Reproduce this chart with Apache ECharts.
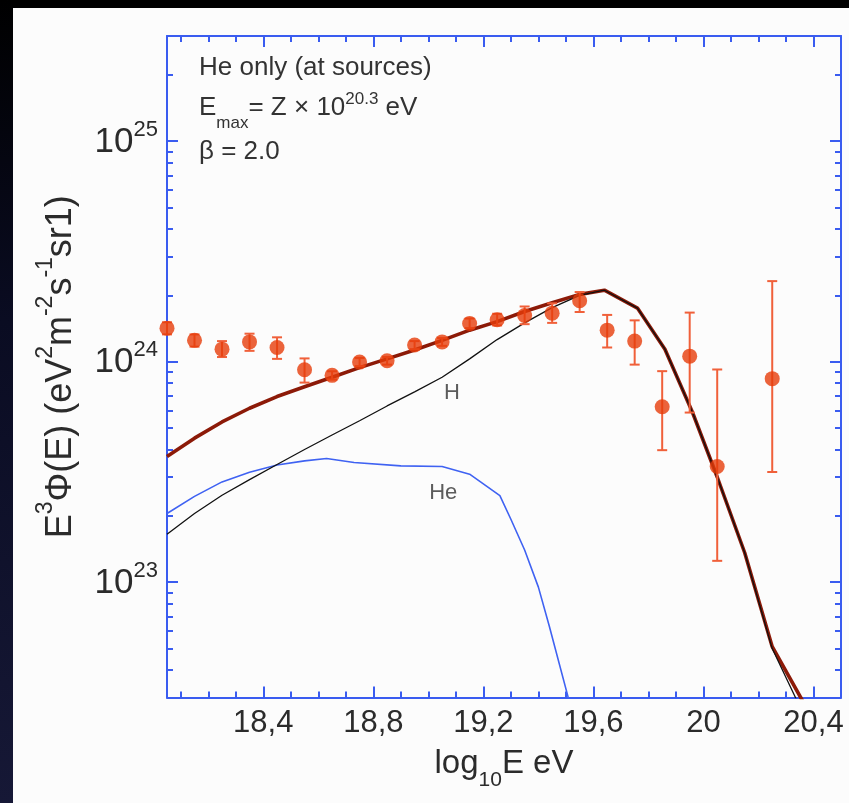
<!DOCTYPE html>
<html>
<head>
<meta charset="utf-8">
<script src="https://cdn.jsdelivr.net/npm/echarts@6/dist/echarts.min.js"></script>
<style>
html,body{margin:0;padding:0;background:#000;}
#c{width:849px;height:803px;}
</style>
</head>
<body>
<div id="c"></div>
<script>
// ---------- data ----------
const dataE   = [18.05,18.15,18.25,18.35,18.45,18.55,18.65,18.75,18.85,18.95,19.05,19.15,19.25,19.35,19.45,19.55,19.65,19.75,19.85,19.95,20.05,20.25];
const dataF   = [1.42e24,1.25e24,1.14e24,1.23e24,1.16e24,9.2e23,8.67e23,9.96e23,1.01e24,1.19e24,1.23e24,1.49e24,1.55e24,1.62e24,1.66e24,1.89e24,1.39e24,1.24e24,6.25e23,1.06e24,3.35e23,8.38e23];
const dataLo  = [1.33e24,1.17e24,1.05e24,1.12e24,1.03e24,8.04e23,8.3e23,9.55e23,9.7e23,1.14e24,1.18e24,1.42e24,1.46e24,1.48e24,1.50e24,1.68e24,1.16e24,9.7e23,3.97e23,5.88e23,1.25e23,3.16e23];
const dataHi  = [1.51e24,1.33e24,1.24e24,1.34e24,1.29e24,1.035e24,9.05e23,1.04e24,1.05e24,1.24e24,1.28e24,1.57e24,1.65e24,1.78e24,1.84e24,2.07e24,1.63e24,1.54e24,9.06e23,1.67e24,9.22e23,2.32e24];

const totalE  = [18.05,18.15,18.25,18.35,18.45,18.55,18.65,18.75,18.85,18.95,19.05,19.15,19.25,19.35,19.45,19.55,19.64,19.76,19.86,19.96,20.05,20.15,20.25,20.36];
const totalF  = [3.72e23,4.5e23,5.33e23,6.15e23,6.95e23,7.7e23,8.5e23,9.4e23,1.03e24,1.13e24,1.25e24,1.39e24,1.52e24,1.69e24,1.85e24,2.02e24,2.11e24,1.75e24,1.14e24,5.9e23,3.0e23,1.36e23,5.1e22,2.9e22];

const hE      = [18.05,18.15,18.25,18.35,18.45,18.55,18.65,18.75,18.85,18.95,19.05,19.15,19.25,19.35,19.45,19.55,19.64,19.76,19.86,19.96,20.05,20.15,20.25,20.34];
const hF      = [1.65e23,2.05e23,2.48e23,2.92e23,3.42e23,4.0e23,4.65e23,5.4e23,6.3e23,7.3e23,8.5e23,1.03e24,1.26e24,1.5e24,1.76e24,2.0e24,2.11e24,1.75e24,1.14e24,5.9e23,3.0e23,1.36e23,5.0e22,2.9e22];

const heE     = [18.05,18.15,18.25,18.35,18.45,18.55,18.63,18.73,18.9,19.05,19.15,19.26,19.30,19.35,19.40,19.44,19.51];
const heF     = [2.05e23,2.45e23,2.85e23,3.15e23,3.4e23,3.55e23,3.64e23,3.49e23,3.37e23,3.35e23,3.09e23,2.47e23,1.93e23,1.4e23,9.5e22,6.3e22,2.95e22];

const xMajor      = [18.4,18.8,19.2,19.6,20.0,20.4];
const xTickLabels = ['18,4','18,8','19,2','19,6','20','20,4'];
const xMinor      = [18.1,18.2,18.3,18.5,18.6,18.7,18.9,19.0,19.1,19.3,19.4,19.5,19.7,19.8,19.9,20.1,20.2,20.3];
const yMajorExp   = [23,24,25];
const yMinorVals  = [4e22,5e22,6e22,7e22,8e22,9e22,2e23,3e23,4e23,5e23,6e23,7e23,8e23,9e23,2e24,3e24,4e24,5e24,6e24,7e24,8e24,9e24,2e25];

const curveLabels = [{name:'H', e:19.086, f:7.2e23},{name:'He', e:19.054, f:2.54e23}];

// ---------- chart ----------
const L = Math.log10;
const BLUE = '#3a5cf0';
const FONT = 'Liberation Sans';
const TXT = '#2b2b2b';
const xMin = 18.05, xMax = 20.5;
const yMin = L(3e22), yMax = L(3e25);

const zip = (es, fs) => es.map((e,i)=>[e, L(fs[i])]);

function xAx(pos, vals, len, main) {
  return {
    type:'value', min:xMin, max:xMax, position:pos, splitLine:{show:false},
    axisLine:{show:main, onZero:false, lineStyle:{color:BLUE, width:2}},
    axisTick:{show:true, inside:true, length:len, customValues:vals, lineStyle:{color:BLUE, width:2}},
    axisLabel:{show:false}
  };
}
function yAx(pos, vals, len, main) {
  return {
    type:'value', min:yMin, max:yMax, position:pos, splitLine:{show:false},
    axisLine:{show:main, onZero:false, lineStyle:{color:BLUE, width:2}},
    axisTick:{show:true, inside:true, length:len, customValues:vals, lineStyle:{color:BLUE, width:2}},
    axisLabel:{show:false}
  };
}

const xa0 = xAx('bottom', xMajor, 11, true);
xa0.axisLabel = {
  show:true, customValues:xMajor, margin:10, fontSize:31, fontFamily:FONT, color:TXT,
  formatter: v => { const i = xMajor.findIndex(m => Math.abs(m-v)<1e-6); return i>=0 ? xTickLabels[i] : ''; }
};
xa0.name = '{n|log}{sub|10}{n|E eV}';
xa0.nameLocation = 'middle';
xa0.nameGap = 50;
xa0.nameTextStyle = {
  fontFamily:FONT, color:TXT,
  rich:{
    n:{fontSize:33, lineHeight:33, fontFamily:FONT, color:TXT, verticalAlign:'top', padding:[0,0,0,0]},
    sub:{fontSize:21, lineHeight:21, fontFamily:FONT, color:TXT, verticalAlign:'top', padding:[22,0,0,0]}
  }
};

const ya0 = yAx('left', yMajorExp, 11, true);
ya0.axisLabel = {
  show:true, customValues:yMajorExp, margin:9, fontFamily:FONT, color:TXT, padding:[0,0,22,0],
  formatter: v => '{b|10}{s|' + Math.round(v) + '}',
  rich:{
    b:{fontSize:35, lineHeight:35, fontFamily:FONT, color:TXT, verticalAlign:'top', padding:[12,0,0,0]},
    s:{fontSize:22, lineHeight:22, fontFamily:FONT, color:TXT, verticalAlign:'top', padding:[6,0,0,0]}
  }
};
ya0.name = '{n|E}{sup|3}{n|Φ(E) (eV}{sup|2}{n|m}{sup|-2}{n|s}{sup|-1}{n|sr1)}';
ya0.nameLocation = 'middle';
ya0.nameGap = 97;
ya0.nameTextStyle = {
  fontFamily:FONT, color:TXT,
  rich:{
    n:{fontSize:36, lineHeight:36, fontFamily:FONT, color:TXT, verticalAlign:'top', padding:[9,0,0,0]},
    sup:{fontSize:23, lineHeight:23, fontFamily:FONT, color:TXT, verticalAlign:'top', padding:[0,0,0,0]}
  }
};

const yMinorLog = yMinorVals.map(L);

const option = {
  backgroundColor:'#000',
  animation:false,
  grid:{left:167, top:36, right:8, bottom:105.5, containLabel:false},
  xAxis:[ xa0, xAx('bottom', xMinor, 6, false), xAx('top', xMajor, 11, true), xAx('top', xMinor, 6, false) ],
  yAxis:[ ya0, yAx('left', yMinorLog, 6, false), yAx('right', yMajorExp, 11, true), yAx('right', yMinorLog, 6, false) ],
  graphic:{elements:[
    {type:'rect', z:-100, silent:true, shape:{x:13, y:8, width:836, height:795}, style:{fill:'#fcfcfc'}},
    {type:'rect', z:-100, silent:true, shape:{x:0, y:0, width:13, height:803},
      style:{fill:new echarts.graphic.LinearGradient(0,0,0,1,[{offset:0,color:'#000'},{offset:0.4,color:'#0a0c22'},{offset:1,color:'#161836'}])}},
    {type:'text', z:100, x:199, y:68, style:{text:'He only (at sources)', fontSize:26, fontFamily:FONT, fill:'#333', verticalAlign:'middle'}},
    {type:'text', z:100, x:199, y:87, style:{
      text:'{n|E}{sub|max}{n|= Z × 10}{sup|20.3}{n| eV}', fill:'#333', verticalAlign:'top', fontFamily:FONT,
      rich:{
        n:{fontSize:26, lineHeight:26, fontFamily:FONT, fill:'#333', verticalAlign:'top', padding:[8,0,0,0]},
        sub:{fontSize:17, lineHeight:17, fontFamily:FONT, fill:'#333', verticalAlign:'top', padding:[28,0,0,0]},
        sup:{fontSize:17, lineHeight:17, fontFamily:FONT, fill:'#333', verticalAlign:'top', padding:[4,0,0,0]}
      }}},
    {type:'text', z:100, x:199, y:152, style:{text:'β = 2.0', fontSize:26, fontFamily:FONT, fill:'#333', verticalAlign:'middle'}}
  ]},
  series:[
    {type:'line', name:'He', data:zip(heE, heF), showSymbol:false, symbol:'none', lineStyle:{color:'#3f62f2', width:1.6}, z:2},
    {type:'line', name:'total', data:zip(totalE, totalF), showSymbol:false, symbol:'none', lineStyle:{color:'#8c1a08', width:3.6}, z:3},
    {type:'line', name:'H', data:zip(hE, hF), showSymbol:false, symbol:'none', lineStyle:{color:'#111', width:1.3}, z:4},
    {type:'custom', name:'err', z:5,
      data: dataE.map((e,i)=>[e, L(dataLo[i]), L(dataHi[i])]),
      renderItem:(params, api) => {
        const x = api.value(0);
        const p1 = api.coord([x, api.value(1)]);
        const p2 = api.coord([x, api.value(2)]);
        const w = 5;
        const st = {stroke:'#f0603a', lineWidth:2};
        return {type:'group', children:[
          {type:'line', shape:{x1:p1[0], y1:p1[1], x2:p2[0], y2:p2[1]}, style:st},
          {type:'line', shape:{x1:p1[0]-w, y1:p1[1], x2:p1[0]+w, y2:p1[1]}, style:st},
          {type:'line', shape:{x1:p2[0]-w, y1:p2[1], x2:p2[0]+w, y2:p2[1]}, style:st}
        ]};
      }},
    {type:'scatter', name:'data', z:6, data:zip(dataE, dataF), symbol:'circle', symbolSize:15,
      itemStyle:{color:'#e63c0a'}},
    {type:'scatter', name:'labels', z:7, symbolSize:1, itemStyle:{color:'transparent'},
      data: curveLabels.map(c => ({name:c.name, value:[c.e, L(c.f)]})),
      label:{show:true, position:'inside', formatter:'{b}', fontSize:22, fontFamily:FONT, color:'#333'}}
  ]
};

const chart = echarts.init(document.getElementById('c'));
chart.setOption(option);
</script>
</body>
</html>
